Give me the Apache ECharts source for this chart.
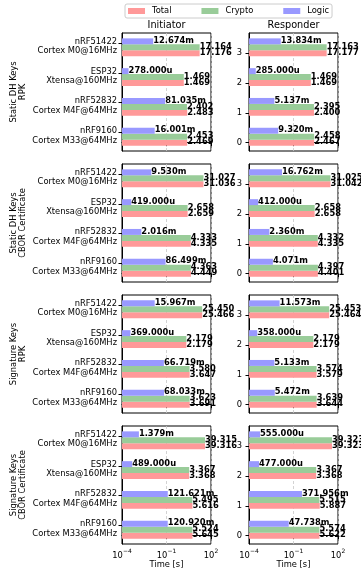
<!DOCTYPE html>
<html>
<head>
<meta charset="utf-8">
<script src="https://cdn.jsdelivr.net/npm/echarts@6/dist/echarts.min.js"></script>
<style>html,body{margin:0;padding:0;background:#fff}#c{width:361px;height:571px}</style>
</head>
<body>
<div id="c"></div>
<script>
// Categories (index 0 at bottom)
const categories = ['nRF9160\nCortex M33@64MHz', 'nRF52832\nCortex M4F@64MHz', 'ESP32\nXtensa@160MHz', 'nRF51422\nCortex M0@16MHz'];
const panelNames = ['Static DH Keys\nRPK', 'Static DH Keys\nCBOR Certificate', 'Signature Keys\nRPK', 'Signature Keys\nCBOR Certificate'];
const columnTitles = ['Initiator', 'Responder'];
const seriesNames = ['Total', 'Crypto', 'Logic'];
const xTickValues = [1e-4, 1e-1, 1e2];

// Values in seconds, per panel, per category [nRF9160, nRF52832, ESP32, nRF51422]
const initiatorTotal = [
  [2.469, 2.483, 1.469, 17.176],
  [4.449, 4.335, 2.659, 31.036],
  [3.691, 3.647, 2.179, 25.466],
  [5.645, 5.616, 3.368, 39.316]
];
const initiatorCrypto = [
  [2.453, 2.402, 1.469, 17.164],
  [4.363, 4.333, 2.658, 31.027],
  [3.623, 3.580, 2.179, 25.450],
  [5.524, 5.495, 3.367, 39.315]
];
const initiatorLogic = [
  [16.001e-3, 81.035e-3, 278e-6, 12.674e-3],
  [86.499e-3, 2.016e-3, 419e-6, 9.530e-3],
  [68.033e-3, 66.719e-3, 369e-6, 15.967e-3],
  [120.920e-3, 121.621e-3, 489e-6, 1.379e-3]
];
const responderTotal = [
  [2.467, 2.400, 1.469, 17.177],
  [4.401, 4.335, 2.658, 31.042],
  [3.644, 3.579, 2.179, 25.464],
  [5.622, 5.887, 3.368, 39.323]
];
const responderCrypto = [
  [2.458, 2.395, 1.469, 17.163],
  [4.397, 4.332, 2.658, 31.025],
  [3.639, 3.574, 2.179, 25.453],
  [5.574, 5.515, 3.367, 39.323]
];
const responderLogic = [
  [9.320e-3, 5.137e-3, 285e-6, 13.834e-3],
  [4.071e-3, 2.360e-3, 412e-6, 16.762e-3],
  [5.472e-3, 5.133e-3, 358e-6, 11.573e-3],
  [47.738e-3, 371.956e-3, 477e-6, 555e-6]
];

const FONT = '"DejaVu Sans", "Liberation Sans", sans-serif';
const COLORS = ['#ff9999', '#99cc99', '#9999ff'];
const OFFSETS = [0, 0.2, 0.4];
const BAR_H = 0.2;
const XMIN = 1e-4, XMAX = 100;

function fmt(v) {
  if (v >= 1) return v.toFixed(3);
  if (v >= 1e-3) return (v * 1e3).toFixed(3) + 'm';
  return (v * 1e6).toFixed(3) + 'u';
}

function makeRender(offset) {
  return function (params, api) {
    const v = api.value(0), c = api.value(1);
    const y = c + offset;
    const p0 = api.coord([XMIN, y + BAR_H / 2]);
    const p1 = api.coord([v, y - BAR_H / 2]);
    return {
      type: 'group',
      children: [
        { type: 'rect', shape: { x: p0[0], y: p0[1], width: p1[0] - p0[0], height: p1[1] - p0[1] },
          style: { fill: api.visual('color') } },
        { type: 'text', z2: 100,
          style: { text: fmt(v), x: p1[0], y: (p0[1] + p1[1]) / 2 - 0.5,
            align: 'left', verticalAlign: 'middle', textAlign: 'left', textVerticalAlign: 'middle',
            font: 'bold 8.33px ' + FONT, fill: '#000' } }
      ]
    };
  };
}

const tops = [33, 164, 295, 426];
const lefts = [122, 249];
const GW = 89, GH = 118;

const grids = [], xAxes = [], yAxes = [], series = [];
const dataSets = [[initiatorTotal, initiatorCrypto, initiatorLogic], [responderTotal, responderCrypto, responderLogic]];

for (let p = 0; p < 4; p++) {
  for (let s = 0; s < 2; s++) {
    const idx = p * 2 + s;
    grids.push({ left: lefts[s], top: tops[p], width: GW, height: GH, show: true, borderColor: '#000', borderWidth: 1, backgroundColor: 'transparent' });
    const isBottom = p === 3;
    xAxes.push({
      type: 'log', logBase: 10, gridIndex: idx, min: XMIN, max: XMAX,
      name: isBottom ? 'Time [s]' : '', nameLocation: 'middle', nameGap: 17,
      nameTextStyle: { fontSize: 8.33, color: '#000', fontFamily: FONT },
      axisLine: { show: true, lineStyle: { color: '#000', width: 1 } },
      axisTick: { show: true, length: 3.5, lineStyle: { color: '#000' }, customValues: xTickValues },
      minorTick: { show: false },
      splitLine: { show: true, lineStyle: { color: '#c8c8c8', type: [3, 2], width: 0.8 } },
      axisLabel: {
        show: isBottom, margin: 4, customValues: xTickValues,
        formatter: function (v) {
          const e = Math.round(Math.log10(v));
          return '{b|10}{s|' + (e < 0 ? '\u2212' + (-e) : String(e)) + '}';
        },
        rich: {
          b: { fontSize: 8.33, fontFamily: FONT, color: '#000', lineHeight: 12, verticalAlign: 'bottom' },
          s: { fontSize: 6, fontFamily: FONT, color: '#000', lineHeight: 8, verticalAlign: 'top' }
        }
      }
    });
    const leftSide = s === 0;
    yAxes.push({
      type: 'value', gridIndex: idx, min: -0.28, max: 3.68,
      name: leftSide ? panelNames[p] : '', nameLocation: 'middle', nameRotate: 90, nameGap: 94,
      nameTextStyle: { fontSize: 8.33, color: '#000', fontFamily: FONT, lineHeight: 9.5, align: 'center' },
      axisLine: { show: true, lineStyle: { color: '#000', width: 1 } },
      axisTick: { show: true, length: 3.5, lineStyle: { color: '#000' },
        customValues: leftSide ? [0.34, 1.34, 2.34, 3.34] : [0, 1, 2, 3] },
      splitLine: { show: false },
      axisLabel: {
        show: true, margin: leftSide ? 5 : 7,
        customValues: leftSide ? [0.23, 1.23, 2.23, 3.23] : [0, 1, 2, 3],
        fontSize: 8.33, fontFamily: FONT, color: '#000', lineHeight: 9.5,
        formatter: leftSide ? function (v) { return categories[Math.round(v - 0.23)]; } : function (v) { return String(Math.round(v)); }
      }
    });
    for (let m = 0; m < 3; m++) {
      const vals = dataSets[s][m][p];
      series.push({
        type: 'custom', name: seriesNames[m], xAxisIndex: idx, yAxisIndex: idx,
        itemStyle: { color: COLORS[m] }, clip: false,
        encode: { x: 0, y: 1 },
        renderItem: makeRender(OFFSETS[m]),
        data: vals.map((v, c) => [v, c])
      });
    }
  }
}

const chart = echarts.init(document.getElementById('c'), null, { renderer: 'canvas' });
chart.setOption({
  animation: false,
  backgroundColor: '#fff',
  textStyle: { fontFamily: FONT },
  legend: {
    data: seriesNames, left: 125, top: 4, icon: 'rect', itemWidth: 17, itemHeight: 6, itemGap: 30,
    padding: [2, 3, 2, 3], borderColor: '#cccccc', borderWidth: 1, borderRadius: 2, backgroundColor: '#fff',
    textStyle: { fontSize: 8.33, color: '#000', fontFamily: FONT, padding: [0, 0, 0, 2], lineHeight: 10 }
  },
  graphic: columnTitles.map((t, i) => ({
    type: 'text', x: lefts[i] + GW / 2, y: 25.7,
    style: { text: t, font: '9.72px ' + FONT, fill: '#000', align: 'center', verticalAlign: 'middle', textAlign: 'center', textVerticalAlign: 'middle' }
  })),
  grid: grids, xAxis: xAxes, yAxis: yAxes, series: series
});
</script>
</body>
</html>
